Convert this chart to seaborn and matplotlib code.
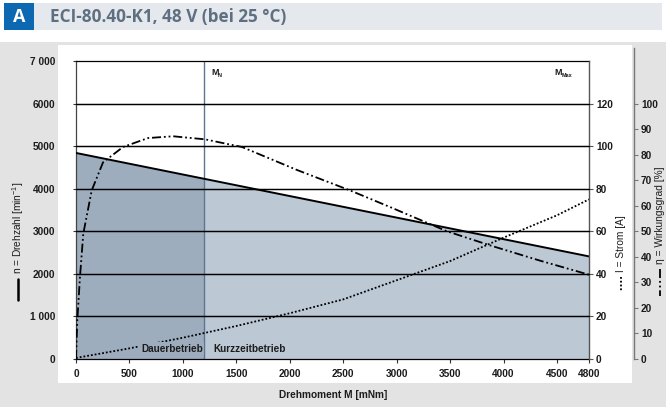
import numpy as np
import matplotlib
matplotlib.use("Agg")
import matplotlib.pyplot as plt
import seaborn as sns
from matplotlib.patches import Rectangle
from matplotlib.lines import Line2D

# ---------------- data ----------------
speed_torque = [0, 4800]
speed = [4840, 2410]

current_torque = [0, 500, 1000, 1500, 2000, 2500, 3000, 3500, 4000, 4500, 4800]
current = [0.5, 5, 10, 15.5, 21.5, 28, 37, 46, 57, 67.5, 75]

eff_torque = [0, 12, 37, 68, 147, 253, 440, 674, 908, 1207, 1553, 2068, 2564,
              2938, 3471, 3873, 4342, 4800]
eff = [0, 15, 32, 49, 66, 77, 83, 86.5, 87.2, 86, 83, 74, 66,
       59.5, 50, 44.5, 38.5, 33]

rated_torque = 1200

x_ticks = [0, 500, 1000, 1500, 2000, 2500, 3000, 3500, 4000, 4500, 4800]
x_tick_labels = ["0", "500", "1000", "1500", "2000", "2500", "3000", "3500",
                 "4000", "4500", "4800"]
speed_ticks = [0, 1000, 2000, 3000, 4000, 5000, 6000, 7000]
speed_tick_labels = ["0", "1 000", "2000", "3000", "4000", "5000", "6000", "7 000"]
current_ticks = [0, 20, 40, 60, 80, 100, 120]
eff_ticks = [0, 10, 20, 30, 40, 50, 60, 70, 80, 90, 100]

title = "ECI-80.40-K1, 48 V (bei 25 °C)"

# ---------------- style ----------------
sns.set_theme(style="white")
plt.rcParams["font.family"] = ["Liberation Sans", "DejaVu Sans"]
plt.rcParams["mathtext.fontset"] = "custom"
plt.rcParams["mathtext.rm"] = "Liberation Sans"

DARK = "#9eadbe"
LIGHT = "#bdc8d5"
MN_COL = "#5b7690"
GRAY_BG = "#e3e3e3"
TXT = "#1c1c1c"
DASHDOT = (0, (5, 1.6, 1, 1.6, 1, 1.6))
DOTTED = (0, (1, 1.1))

W, H = 666, 407
fig = plt.figure(figsize=(W / 100, H / 100), dpi=100)
fig.patch.set_facecolor("white")


def fx(x):
    return x / W


def fy(y):
    return 1 - y / H


def rect(x0, y0, x1, y1, color, z=-10):
    fig.add_artist(Rectangle((fx(x0), fy(y1)), fx(x1) - fx(x0), fy(y0) - fy(y1),
                             transform=fig.transFigure, color=color, lw=0, zorder=z))


# header
rect(4, 3, 662, 30, "#e5e8ec")
rect(4, 3, 34, 30, "#0b68b1", z=-9)
fig.text(fx(19), fy(17), "A", color="white", fontsize=13, fontweight="bold",
         ha="center", va="center", family=["Open Sans", "DejaVu Sans"])
fig.text(fx(50), fy(17), title, color="#5d6f81", fontsize=12.3, fontweight="bold",
         ha="left", va="center", family=["Open Sans", "DejaVu Sans"])

# panels
rect(0, 42, 666, 407, GRAY_BG)
rect(58, 45, 632, 383, "white", z=-9)

# ---------------- main axes (speed) ----------------
ax = fig.add_axes([fx(76), fy(359), 513 / W, 298 / H])
ax.set_facecolor("white")
ax.set_xlim(0, 4800)
ax.set_ylim(0, 7000)
ax.grid(False)

ax.fill_between(speed_torque, 0, speed, color=LIGHT, lw=0, zorder=0.1)
ax.axvspan(0, rated_torque, color=DARK, lw=0, zorder=0.2)
ax.fill_between(speed_torque, speed, 7000, color="white", lw=0, zorder=0.3)
ax.axvline(rated_torque, color=MN_COL, lw=1.0, zorder=1.0)
ax.hlines(speed_ticks[1:-1], 0, 4800, color="black", lw=0.9, zorder=1.5)

ax.set_yticks(speed_ticks)
ax.set_yticklabels(speed_tick_labels)
ax.set_xticks(x_ticks)
ax.set_xticklabels(x_tick_labels)

sns.lineplot(x=speed_torque, y=speed, ax=ax, color="black", lw=1.4, zorder=3,
             errorbar=None)

ax.tick_params(axis="y", left=True, length=2, width=0.8, color="#333",
               pad=13, labelsize=7.3, labelcolor=TXT)
ax.tick_params(axis="x", bottom=True, length=3, width=0.8, color="#333",
               pad=4, labelsize=7.3, labelcolor=TXT)
for lab in ax.get_xticklabels() + ax.get_yticklabels():
    lab.set_fontweight("bold")
ax.set_xlabel("")
ax.set_ylabel("")
for s in ["left", "bottom", "top"]:
    ax.spines[s].set_visible(True)
    ax.spines[s].set_linewidth(0.9)
ax.spines["left"].set_color("#444")
ax.spines["bottom"].set_color("black")
ax.spines["top"].set_color("black")
ax.spines["right"].set_visible(False)

# ---------------- current axis ----------------
axI = ax.twinx()
axI.set_ylim(0, 140)
sns.lineplot(x=current_torque, y=current, ax=axI, color="black",
             linestyle=DOTTED, lw=1.3, errorbar=None)
axI.set_yticks(current_ticks)
axI.set_ylabel("")
axI.set_xlabel("")
axI.grid(False)
for s in ["left", "bottom", "top"]:
    axI.spines[s].set_visible(False)
axI.spines["right"].set_color("#555")
axI.spines["right"].set_linewidth(1.0)
axI.tick_params(axis="y", right=True, length=3, width=0.8, color="#555",
                pad=2, labelsize=7.3, labelcolor=TXT)
for lab in axI.get_yticklabels():
    lab.set_fontweight("bold")

# ---------------- efficiency axis ----------------
axE = ax.twinx()
axE.set_ylim(0, 7000 / 60)
sns.lineplot(x=eff_torque, y=eff, ax=axE, color="black",
             linestyle=DASHDOT, lw=1.3, errorbar=None)
axE.set_yticks(eff_ticks)
axE.set_ylabel("")
axE.set_xlabel("")
axE.grid(False)
for s in ["left", "bottom", "top"]:
    axE.spines[s].set_visible(False)
axE.spines["right"].set_position(("axes", (634 - 76) / 513))
axE.spines["right"].set_bounds(0, 121.8)
axE.spines["right"].set_color("#777")
axE.spines["right"].set_linewidth(1.0)
axE.tick_params(axis="y", right=True, length=3, width=0.8, color="#777",
                pad=2, labelsize=7.3, labelcolor=TXT)
for lab in axE.get_yticklabels():
    lab.set_fontweight("bold")

# gridlines once more on top of every axes layer (speed scale)
for t in speed_ticks[1:-1]:
    fig.add_artist(Line2D([0, 4800], [t, t], transform=ax.transData,
                          color="black", lw=0.9, zorder=1.5))

# ---------------- annotations ----------------
fig.text(1185, 240, "Dauerbetrieb", transform=ax.transData,
         ha="right", va="center", fontsize=7.2, fontweight="bold", color=TXT,
         zorder=3, bbox=dict(facecolor=DARK, edgecolor="none", pad=1.2))
axE.text(1290, 240, "Kurzzeitbetrieb", transform=ax.transData, ha="left", va="center",
         fontsize=7.2, fontweight="bold", color=TXT)

axE.text(1262, 6740, "M", transform=ax.transData, ha="left", va="center",
         fontsize=6.5, fontweight="bold", color=TXT)
axE.text(1322, 6670, "N", transform=ax.transData, ha="left", va="center",
         fontsize=4, fontweight="bold", color=TXT)
axE.text(4480, 6740, "M", transform=ax.transData, ha="left", va="center",
         fontsize=6.5, fontweight="bold", color=TXT)
axE.text(4545, 6670, "Max", transform=ax.transData, ha="left", va="center",
         fontsize=4, fontweight="bold", color=TXT)

# axis titles
fig.text(fx(333), fy(395), "Drehmoment M [mNm]", ha="center", va="center",
         fontsize=7.3, fontweight="bold", color=TXT)

fig.text(fx(18), fy(274), r"n = Drehzahl [min$^{\mathregular{-1}}$]", rotation=90,
         ha="center", va="bottom", fontsize=7.3, color=TXT)
fig.add_artist(Line2D([fx(18), fx(18)], [fy(279), fy(300)], transform=fig.transFigure,
                      color="black", lw=1.8))

fig.text(fx(621), fy(272), "I = Strom [A]", rotation=90, ha="center",
         va="bottom", fontsize=7.3, color=TXT)
fig.add_artist(Line2D([fx(621), fx(621)], [fy(277), fy(292)], transform=fig.transFigure,
                      color="black", lw=1.3, linestyle=DOTTED))

fig.text(fx(660), fy(264), "η = Wirkungsgrad [%]", rotation=90, ha="center",
         va="bottom", fontsize=7.3, color=TXT)
fig.add_artist(Line2D([fx(660), fx(660)], [fy(269), fy(296)], transform=fig.transFigure,
                      color="black", lw=1.3, linestyle=DASHDOT))

fig.savefig("out.png", dpi=100, facecolor=fig.get_facecolor())
